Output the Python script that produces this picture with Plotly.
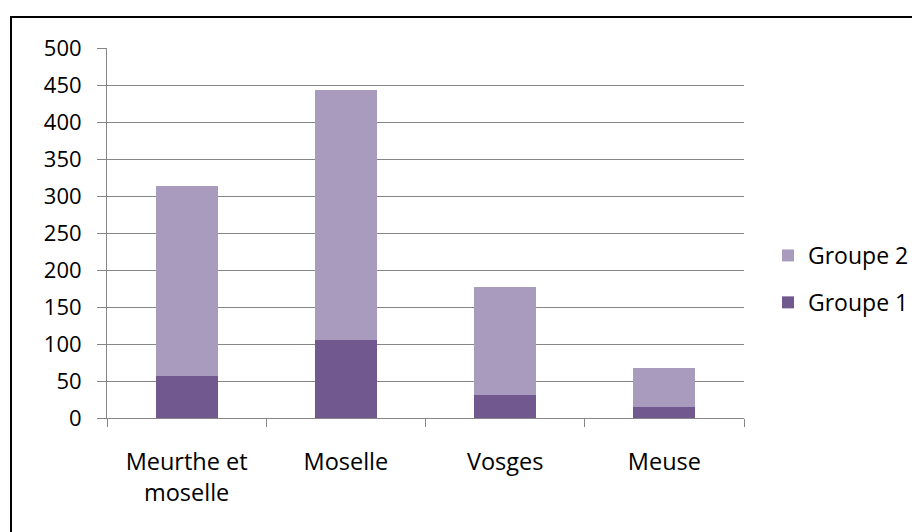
import plotly.graph_objects as go

categories = ["Meurthe et<br>moselle", "Moselle", "Vosges", "Meuse"]
groupe1 = [57, 106, 31, 15]
groupe2 = [256, 337, 146, 53]
y_ticks = [0, 50, 100, 150, 200, 250, 300, 350, 400, 450, 500]

W, H = 920, 532
L, R, T, B = 99, 184, 40, 122

fig = go.Figure()
fig.add_trace(go.Bar(name="Groupe 1", x=categories, y=groupe1,
                     marker=dict(color="#71588F", line=dict(width=0)),
                     legendgroup="g1", legendrank=2))
fig.add_trace(go.Bar(name="Groupe 2", x=categories, y=groupe2,
                     marker=dict(color="#A99BBD", line=dict(width=0)),
                     legendgroup="g2", legendrank=1))

yfont = dict(family="Open Sans", size=22, color="#000000")
xfont = dict(family="Open Sans", size=23.5, color="#000000")
lfont = dict(family="Open Sans", size=23, color="#000000")

pw, ph = W - L - R, H - T - B

fig.update_layout(
    width=W, height=H,
    margin=dict(l=L, r=R, t=T, b=B, pad=0),
    barmode="stack", bargap=0.61,
    paper_bgcolor="white", plot_bgcolor="white",
    font=yfont,
    showlegend=True,
    legend=dict(x=1.0 + 24 / pw, xanchor="left", xref="paper",
                y=0.5 - 46 / ph, yanchor="middle",
                traceorder="grouped", tracegroupgap=14,
                font=lfont, itemwidth=30, bgcolor="rgba(0,0,0,0)"),
    xaxis=dict(type="category", showline=True, linecolor="#868686", linewidth=1,
               ticks="outside", tickson="boundaries", ticklen=8, tickcolor="#868686",
               tickwidth=1, showgrid=False, tickfont=xfont, ticklabelstandoff=23),
    yaxis=dict(range=[0, 500], tickvals=y_ticks, showline=True, linecolor="#868686",
               linewidth=1, ticks="outside", ticklen=9, tickcolor="#868686",
               showgrid=True, gridcolor="#868686", gridwidth=1, zeroline=False,
               tickfont=yfont, ticklabelstandoff=11),
)

# outer chart border (clipped at right and bottom like the reference)
def px_x(p): return (p - L) / pw
def px_y(p): return 1 - (p - T) / ph
fig.add_shape(type="rect", xref="paper", yref="paper",
              x0=px_x(3), x1=px_x(930), y0=px_y(9), y1=px_y(545),
              line=dict(color="black", width=2), fillcolor="rgba(0,0,0,0)", layer="above")

fig.write_html("out.html")
